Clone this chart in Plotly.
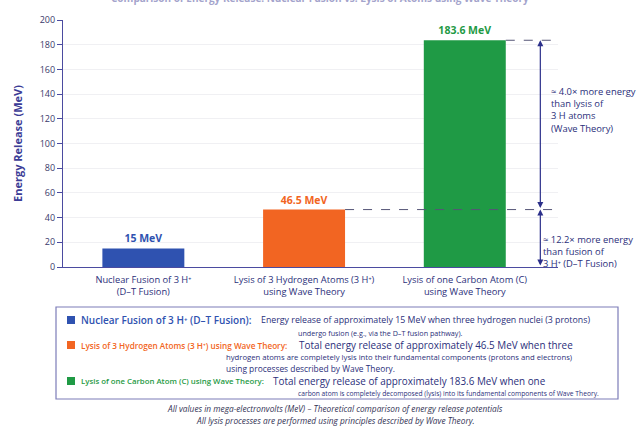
import plotly.graph_objects as go

# ---------------- data ----------------
categories = ["Nuclear Fusion of 3 H⁺<br>(D–T Fusion)",
              "Lysis of 3 Hydrogen Atoms (3 H⁺)<br>using Wave Theory",
              "Lysis of one Carbon Atom (C)<br>using Wave Theory"]
energy_mev = [15, 46.5, 183.6]
value_labels = ["15 MeV", "46.5 MeV", "183.6 MeV"]
bar_colors = ["#2f52b0", "#f26522", "#1f9a45"]
y_ticks = [0, 20, 40, 60, 80, 100, 120, 140, 160, 180, 200]

legend_labels = ["Nuclear Fusion of 3 H⁺ (D–T Fusion):",
                 "Lysis of 3 Hydrogen Atoms (3 H⁺) using Wave Theory:",
                 "Lysis of one Carbon Atom (C) using Wave Theory:"]
legend_desc = [
    ["Energy release of approximately 15 MeV when three hydrogen nuclei (3 protons)",
     "undergo fusion (e.g., via the D–T fusion pathway)."],
    ["Total energy release of approximately 46.5 MeV when three",
     "hydrogen atoms are completely lysis into their fundamental components (protons and electrons)",
     "using processes described by Wave Theory."],
    ["Total energy release of approximately 183.6 MeV when one",
     "carbon atom is completely decomposed (lysis) into its fundamental components of Wave Theory."],
]
footnotes = ["All values in mega-electronvolts (MeV) – Theoretical comparison of energy release potentials",
             "All lysis processes are performed using principles described by Wave Theory."]
ratio_texts = ["≈ 4.0× more energy<br>than lysis of<br>3 H atoms<br>(Wave Theory)",
               "≈ 12.2× more energy<br>than fusion of<br>3 H⁺ (D–T Fusion)"]

# ---------------- layout geometry ----------------
W, H = 641, 426
L, R, T, B = 63, 83, 20, 159
PW = W - L - R
PH = H - T - B
NAVY = "#2b2f7a"
AXIS = "#4b4ba0"
FONT = "Open Sans, Noto Sans, DejaVu Sans, sans-serif"

def px(xp):
    return (xp - L) / PW

def py(yp):
    return (H - B - yp) / PH

BAR_W = 0.51
fig = go.Figure()
fig.add_trace(go.Bar(
    x=categories, y=energy_mev, marker=dict(color=bar_colors, line=dict(width=0)),
    width=BAR_W, text=value_labels, textposition="outside",
    textfont=dict(color=bar_colors, size=10.5, family=FONT, weight=700),
    cliponaxis=False, hoverinfo="skip",
))

fig.update_layout(
    width=W, height=H, margin=dict(l=L, r=R, t=T, b=B),
    paper_bgcolor="white", plot_bgcolor="white", showlegend=False,
    font=dict(family=FONT, color=NAVY, size=9),
    xaxis=dict(range=[-0.5, 2.58], showline=True, linecolor=AXIS, linewidth=1.2,
               tickfont=dict(size=9.3, color=NAVY), ticks="", showgrid=False,
               ticklabelstandoff=4,
               tickmode="array", tickvals=categories, ticktext=categories),
    yaxis=dict(range=[0, 200], tickvals=y_ticks, showline=True, linecolor=AXIS, linewidth=1.2,
               ticks="outside", ticklen=5, tickcolor=AXIS, tickfont=dict(size=9, color="#3a3a6a"),
               showgrid=True, gridcolor="#f0f0f3", gridwidth=1, zeroline=False,
               title=dict(text="Energy Release (MeV)", font=dict(size=11, color="#3c3c96", weight=700),
                          standoff=14)),
)

# dashed reference lines from bar tops
dash_end = 2.56
for i in (1, 2):
    fig.add_shape(type="line", xref="x", yref="y", x0=i + BAR_W / 2, x1=dash_end,
                  y0=energy_mev[i], y1=energy_mev[i],
                  line=dict(color="#555577", width=1, dash="dash"))

# double-headed arrows
arrow_x = 2.47
for top, bot in ((energy_mev[2], energy_mev[1]), (energy_mev[1], 0)):
    fig.add_annotation(x=arrow_x, y=top, ax=arrow_x, ay=bot, xref="x", yref="y",
                       axref="x", ayref="y", text="", showarrow=True,
                       arrowhead=2, startarrowhead=2, arrowside="end+start",
                       arrowsize=1, arrowwidth=1.2, arrowcolor="#2b2f8a",
                       standoff=0, startstandoff=0)

# ratio texts
fig.add_annotation(x=px(549), y=py(110), xref="paper", yref="paper", text=ratio_texts[0],
                   showarrow=False, xanchor="left", yanchor="middle", align="left",
                   font=dict(size=9.4, color=NAVY))
fig.add_annotation(x=px(541), y=py(251), xref="paper", yref="paper", text=ratio_texts[1],
                   showarrow=False, xanchor="left", yanchor="middle", align="left",
                   font=dict(size=9.4, color=NAVY))

# clipped title at the very top
fig.add_annotation(x=px(320), y=py(-2), xref="paper", yref="paper",
                   text="Comparison of Energy Release: Nuclear Fusion vs. Lysis of Atoms using Wave Theory",
                   showarrow=False, xanchor="center", yanchor="middle",
                   font=dict(size=10, color="#a4a4cc", weight=700))

# legend box
fig.add_shape(type="rect", xref="paper", yref="paper", x0=px(56), x1=px(618),
              y0=py(399), y1=py(307), line=dict(color="#7c7cb8", width=1.2), fillcolor="white")

label_rows = [320, 345, 381]
label_sizes = [10.0, 8.2, 7.8]
for i in range(3):
    yr = label_rows[i]
    fig.add_shape(type="rect", xref="paper", yref="paper", x0=px(67), x1=px(75),
                  y0=py(yr + 4), y1=py(yr - 4), line=dict(width=0), fillcolor=bar_colors[i])
    fig.add_annotation(x=px(79), y=py(yr), xref="paper", yref="paper", text=legend_labels[i],
                       showarrow=False, xanchor="left", yanchor="middle",
                       font=dict(size=label_sizes[i], color=bar_colors[i], weight=600))

desc_pos = [
    [(259, 320, 8.8), (296, 333, 7.2)],
    [(297, 345, 9.9), (224, 357, 7.7), (224, 368, 8.4)],
    [(271, 381, 9.9), (296, 393, 6.7)],
]
for i in range(3):
    for (xp, yp, fs), txt in zip(desc_pos[i], legend_desc[i]):
        fig.add_annotation(x=px(xp), y=py(yp), xref="paper", yref="paper", text=txt,
                           showarrow=False, xanchor="left", yanchor="middle",
                           font=dict(size=fs, color=NAVY))

for yp, txt in zip((409, 420), footnotes):
    fig.add_annotation(x=px(335), y=py(yp), xref="paper", yref="paper", text="<i>" + txt + "</i>",
                       showarrow=False, xanchor="center", yanchor="middle",
                       font=dict(size=8.3, color="#333355"))

fig.write_html("out.html", config={"displayModeBar": False},
               post_script="document.body.style.margin='0';document.body.style.overflow='hidden';")
